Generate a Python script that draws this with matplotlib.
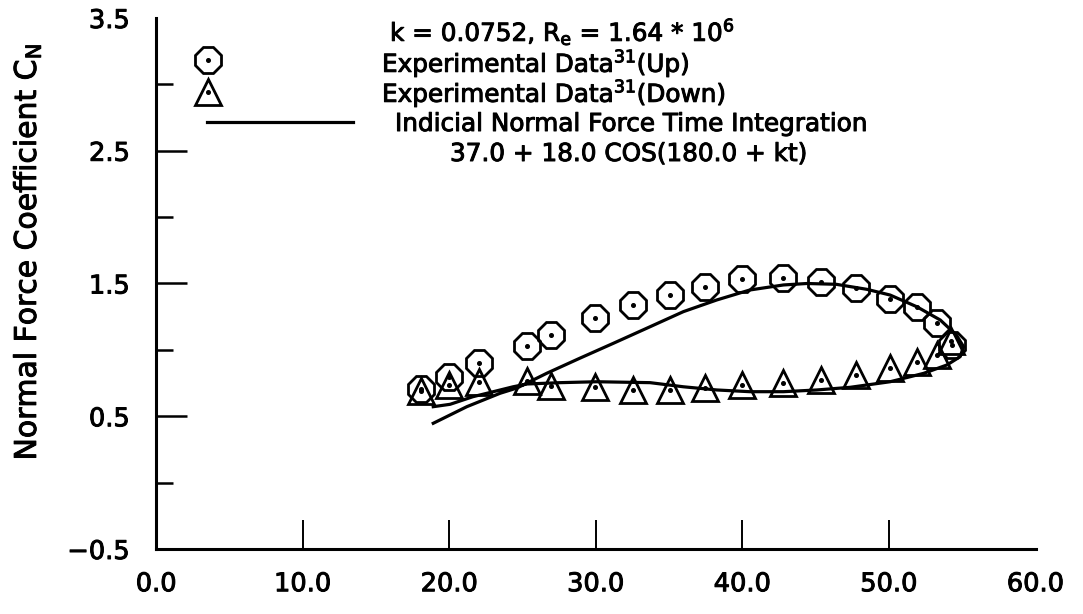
import matplotlib
matplotlib.use("Agg")
import matplotlib.pyplot as plt
import matplotlib.patheffects as pe
import numpy as np

# ---- data ----
alpha_up_exp = [18.05, 19.96, 22.05, 25.32, 26.96, 29.97, 32.56, 35.07, 37.43,
                40.0, 42.8, 45.35, 47.76, 50.08, 51.9, 53.31, 54.29]
cn_up_exp = [0.703, 0.798, 0.903, 1.029, 1.114, 1.240, 1.340, 1.411, 1.471,
             1.532, 1.541, 1.509, 1.468, 1.383, 1.321, 1.205, 1.037]

alpha_down_exp = [18.05, 19.96, 22.05, 25.32, 26.96, 29.97, 32.56, 35.07, 37.43,
                  40.0, 42.8, 45.35, 47.76, 50.08, 51.9, 53.31, 54.23]
cn_down_exp = [0.690, 0.735, 0.760, 0.766, 0.728, 0.718, 0.698, 0.698, 0.715,
               0.735, 0.753, 0.773, 0.808, 0.861, 0.906, 0.961, 1.069]

alpha_theory_up = [18.9, 21.19, 23.46, 24.62, 26.65, 28.9, 31.2, 33.47, 35.97,
                   38.25, 40.5, 42.8, 44.4, 46.4, 48.5, 50.08, 51.9, 53.5,
                   54.6, 55.09]
cn_theory_up = [0.447, 0.572, 0.673, 0.713, 0.824, 0.937, 1.05, 1.163, 1.288,
                1.376, 1.451, 1.489, 1.50, 1.494, 1.456, 1.413, 1.325, 1.225,
                1.112, 1.024]
alpha_theory_down = [54.86, 53.95, 52.36, 50.08, 47.35, 45.08, 42.8, 40.5,
                     38.25, 35.97, 33.7, 30.06, 27.56, 25.3, 24.35, 23.0,
                     21.6, 20.05, 18.9]
cn_theory_down = [0.949, 0.886, 0.823, 0.760, 0.718, 0.698, 0.685, 0.685,
                  0.698, 0.722, 0.753, 0.760, 0.753, 0.743, 0.722, 0.685,
                  0.647, 0.590, 0.572]

xticks = [0, 10, 20, 30, 40, 50, 60]
xtick_labels = ["0.0", "10.0", "20.0", "30.0", "40.0", "50.0", "60.0"]
yticks = [-0.5, 0.5, 1.5, 2.5, 3.5]
ytick_labels = ["\u22120.5", "0.5", "1.5", "2.5", "3.5"]
yminor = [0.0, 1.0, 2.0, 3.0]

plt.rcParams['font.family'] = ['DejaVu Sans']
plt.rcParams['mathtext.fontset'] = 'dejavusans'
plt.rcParams['mathtext.default'] = 'regular'

BOLD = [pe.withStroke(linewidth=0.7, foreground='black')]

W, H = 1083, 614
fig = plt.figure(figsize=(W / 100, H / 100), dpi=100)
x0, x1 = 156.3, 1035.5
ytop, ybot = 18.0, 549.0
ax = fig.add_axes([x0 / W, (H - ybot) / H, (x1 - x0) / W, (ybot - ytop) / H])
ax.set_xlim(0, 60)
ax.set_ylim(-0.5, 3.5)
ax.patch.set_alpha(0)

for s in ['top', 'right']:
    ax.spines[s].set_visible(False)
for s in ['left', 'bottom']:
    ax.spines[s].set_linewidth(2.2)

ax.set_xticks(xticks)
ax.set_xticklabels(xtick_labels)
ax.set_yticks(yticks)
ax.set_yticklabels(ytick_labels)
ax.set_yticks(yminor, minor=True)
ax.tick_params(axis='x', which='major', direction='in', length=21, width=1.4,
               pad=16, labelsize=18.5)
ax.tick_params(axis='y', which='major', direction='in', length=22, width=1.8,
               pad=19, labelsize=18.5)
ax.tick_params(axis='y', which='minor', direction='in', length=12, width=1.8)
for t in ax.xaxis.get_major_ticks():
    if t.get_loc() in (0, 60):
        t.tick1line.set_visible(False)
for t in ax.yaxis.get_major_ticks():
    if t.get_loc() in (-0.5, 3.5):
        t.tick1line.set_visible(False)
for lab in ax.get_xticklabels() + ax.get_yticklabels():
    lab.set_path_effects(BOLD)

ax.set_ylabel("Normal Force Coefficient C$_N$", fontsize=21.5, labelpad=0,
              path_effects=BOLD)
ax.yaxis.set_label_coords((43 - x0) / (x1 - x0), (ybot - 252) / (ybot - ytop))

MS_OCT, MS_TRI, MEW = 20, 19, 2.0
# theory curve
ax.plot(alpha_theory_up + alpha_theory_down, cn_theory_up + cn_theory_down,
        color='black', lw=2.3, solid_joinstyle='round', zorder=2)
# experimental data
ax.plot(alpha_up_exp, cn_up_exp, ls='none', marker='8', ms=MS_OCT, mfc='none',
        mec='black', mew=MEW, zorder=3)
ax.plot(alpha_up_exp, cn_up_exp, ls='none', marker='o', ms=2.6, color='black', zorder=4)
ax.plot(alpha_down_exp, cn_down_exp, ls='none', marker='^', ms=MS_TRI, mfc='none',
        mec='black', mew=MEW, zorder=3)
ax.plot(alpha_down_exp, cn_down_exp, ls='none', marker='o', ms=2.6, color='black', zorder=4)

# legend (manual)
def ax_xy(px, py):
    return (px - x0) / (x1 - x0), (ybot - py) / (ybot - ytop)

lx, ly = ax_xy(207.7, 60)
ax.plot([lx], [ly], transform=ax.transAxes, marker='8', ms=MS_OCT, mfc='none',
        mec='black', mew=MEW, clip_on=False)
ax.plot([lx], [ly], transform=ax.transAxes, marker='o', ms=2.6, color='black', clip_on=False)
lx, ly = ax_xy(207.7, 92)
ax.plot([lx], [ly], transform=ax.transAxes, marker='^', ms=MS_TRI, mfc='none',
        mec='black', mew=MEW, clip_on=False)
ax.plot([lx], [ly], transform=ax.transAxes, marker='o', ms=2.6, color='black', clip_on=False)
la, ly = ax_xy(207, 122)
lb, _ = ax_xy(353, 122)
ax.plot([la, lb], [ly, ly], transform=ax.transAxes, color='black', lw=2.3, clip_on=False)

def ftxt(px, py, s):
    fig.text(px / W, (H - py) / H, s, fontsize=17.8, ha='left', va='baseline',
             path_effects=BOLD)

ftxt(390, 41, "k = 0.0752, R$_e$ = 1.64 * 10$^6$")
ftxt(382, 72, "Experimental Data$^{31}$(Up)")
ftxt(382, 102, "Experimental Data$^{31}$(Down)")
ftxt(395, 131, "Indicial Normal Force Time Integration")
ftxt(450, 161, "37.0 + 18.0 COS(180.0 + kt)")

fig.savefig("out.png", dpi=100)
